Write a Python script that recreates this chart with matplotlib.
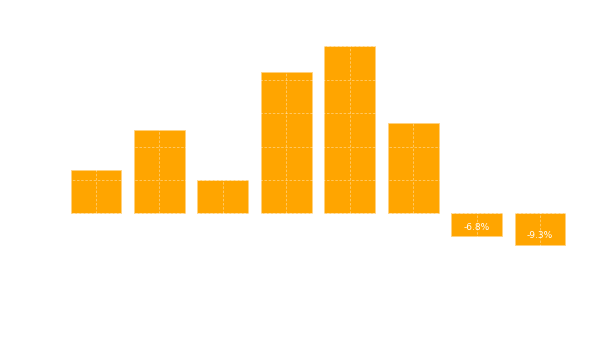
import matplotlib
matplotlib.use('Agg')
from matplotlib import pyplot as plt
import numpy as np

categories = ['A', 'B', 'C', 'D', 'E', 'F', 'G', 'H']
values = [13.0, 24.9, 10.0, 42.3, 50.1, 26.9, -6.8, -9.3]
labels = ['13.0%', '24.9%', '10.0%', '42.3%', '50.1%', '26.9%', '-6.8%', '-9.3%']

fig = plt.figure(figsize=(6, 3.6), dpi=100)
ax = fig.add_axes([0.107, 0.221, 0.846, 0.744])

x = np.arange(len(categories))
ax.bar(x, values, width=0.8, color='#FFA500', edgecolor='#FFD27F', linewidth=0.6)

# value labels in white, only show up on top of the bars
for xi, v, lab in zip(x, values, labels):
	ax.annotate(lab, (xi, v), xytext=(0, 3), textcoords='offset points',
				ha='center', va='bottom', color='white', fontsize=6.5)

ax.set_xlim(-0.5, 7.5)
ax.set_ylim(-20, 60)
ax.set_xticks(x)
ax.set_xticklabels(categories, color='white')
ax.set_yticks([0, 10, 20, 30, 40, 50])
ax.tick_params(length=0, labelcolor='white')
ax.set_axisbelow(False)
ax.grid(True, color='white', linestyle=(0, (3, 2)), linewidth=0.6, alpha=0.45)
for s in ax.spines.values():
	s.set_visible(False)

fig.savefig('out.png', dpi=100, facecolor='white')
